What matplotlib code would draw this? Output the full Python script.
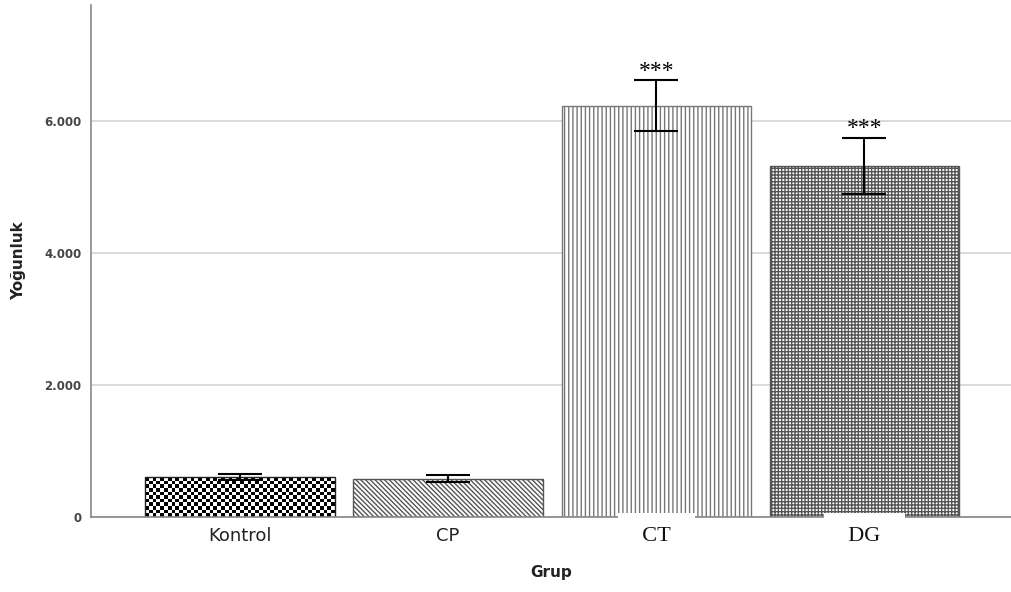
import matplotlib.pyplot as plt
import numpy as np
from matplotlib.ticker import FuncFormatter

# Group means, error bar sizes and significance marks
groups = ['Kontrol', 'CP', 'CT', 'DG']
means = [606, 582, 6230, 5320]
errors = [40, 50, 385, 430]
stars = ['', '', '***', '***']

plt.rcParams['hatch.linewidth'] = 1.0

fig = plt.figure(figsize=(10.11, 5.92), dpi=100)
ax = fig.add_axes([91 / 1011, 75 / 592, 920 / 1011, 512 / 592])

x = np.arange(len(groups))
bars = ax.bar(x, means, width=0.91, color='white', edgecolor='#444',
              linewidth=1, zorder=1)
bars[0].set_facecolor('none')
bars[0].set_edgecolor('#222')
bars[1].set_hatch('\\' * 7)
bars[1].set_edgecolor('#555')
bars[2].set_hatch('||||')
bars[2].set_edgecolor('#777')
bars[3].set_hatch('+++++')
bars[3].set_edgecolor('#555')

ax.set_xlim(-0.716, 3.704)
ax.set_ylim(0, 7758)

# checkerboard fill for the first bar
k = bars[0]
bb = k.get_window_extent()
nx = int(round(bb.width / 3.8))
ny = int(round(bb.height / 3.8))
checker = np.add.outer(np.arange(ny), np.arange(nx)) % 2
ax.imshow(checker, cmap='gray', interpolation='nearest', aspect='auto',
          extent=(k.get_x(), k.get_x() + k.get_width(), 0, k.get_height()),
          zorder=0.9, clip_path=k)
ax.set_xlim(-0.716, 3.704)
ax.set_ylim(0, 7758)

ax.errorbar(x, means, yerr=errors, fmt='none', ecolor='black',
            elinewidth=1.5, capsize=16, capthick=1.5, zorder=3)

for xi, m, e, s in zip(x, means, errors, stars):
    if s:
        ax.annotate(s, (xi, m + e), xytext=(0, -1), textcoords='offset points',
                    ha='center', va='bottom', fontsize=17,
                    family='Liberation Serif', color='black', zorder=4)

# axes styling
for side in ['top', 'right']:
    ax.spines[side].set_visible(False)
for side in ['left', 'bottom']:
    ax.spines[side].set_color('#888')
    ax.spines[side].set_linewidth(1.2)

ax.set_yticks([0, 2000, 4000, 6000])
ax.yaxis.set_major_formatter(
    FuncFormatter(lambda v, p: f"{int(v):,}".replace(',', '.')))
ax.yaxis.grid(True, color='#d4d4d4', linewidth=1.2)
ax.set_axisbelow(True)
ax.xaxis.set_zorder(5)
ax.tick_params(axis='y', length=0, pad=7, labelsize=8.5, labelcolor='#444')
for lab in ax.get_yticklabels():
    lab.set_fontweight('bold')

serif_groups = ['CT', 'DG']
ticklabels = [f"  {g}  " if g in serif_groups else g for g in groups]
ax.set_xticks(x, labels=ticklabels)
ax.tick_params(axis='x', length=0, pad=7)
for lab, g in zip(ax.get_xticklabels(), groups):
    if g in serif_groups:
        lab.set_family('Liberation Serif')
        lab.set_fontsize(16)
        lab.set_color('#111')
        lab.set_bbox(dict(boxstyle='square,pad=0.6', fc='white', ec='none'))
    else:
        lab.set_fontsize(13)
        lab.set_color('#222')

ax.set_ylabel('Yoğunluk', fontsize=11, fontweight='bold', color='#222',
              labelpad=13)
ax.set_xlabel('Grup', fontsize=11, fontweight='bold', color='#222',
              labelpad=14)

fig.savefig('out.png', dpi=100)
